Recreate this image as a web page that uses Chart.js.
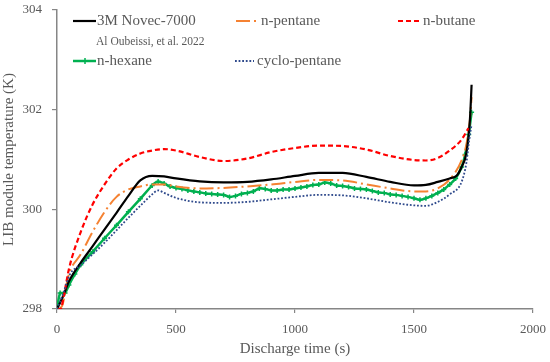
<!DOCTYPE html>
<html>
<head>
<meta charset="utf-8">
<script src="https://cdn.jsdelivr.net/npm/chart.js@4"></script>
<style>
  html, body { margin: 0; padding: 0; background: #fff; }
  #wrap { width: 550px; height: 362px; }
</style>
</head>
<body>
<div id="wrap"><canvas id="chart" width="550" height="362"></canvas></div>
<script>
// discharge time (s) and module temperature (K) for each coolant
const novecTime = [0, 25, 50, 100, 150, 200, 250, 300, 350, 400, 450, 500, 600, 700, 800, 900, 1000, 1100, 1200, 1300, 1400, 1500, 1550, 1600, 1650, 1680, 1700, 1720, 1735, 1742];
const novecTemp = [298.0, 298.25, 298.55, 298.93, 299.26, 299.6, 299.93, 300.27, 300.58, 300.67, 300.66, 300.62, 300.56, 300.54, 300.55, 300.6, 300.67, 300.73, 300.73, 300.65, 300.55, 300.48, 300.49, 300.55, 300.62, 300.68, 300.85, 301.13, 301.8, 302.5];

const pentaneTime = [0, 20, 50, 100, 150, 200, 250, 300, 350, 400, 450, 500, 600, 700, 800, 900, 1000, 1100, 1200, 1300, 1400, 1500, 1550, 1600, 1650, 1700, 1720, 1735, 1742];
const pentaneTemp = [298.0, 298.05, 298.7, 299.1, 299.55, 299.95, 300.25, 300.4, 300.46, 300.5, 300.5, 300.46, 300.42, 300.43, 300.46, 300.5, 300.55, 300.59, 300.58, 300.5, 300.42, 300.36, 300.36, 300.42, 300.6, 300.98, 301.3, 301.8, 302.25];

const butaneTime = [0, 15, 30, 50, 100, 150, 200, 250, 300, 350, 400, 450, 500, 600, 700, 800, 900, 1000, 1100, 1200, 1300, 1400, 1500, 1550, 1600, 1650, 1700, 1729];
const butaneTemp = [298.0, 298.0, 298.3, 298.8, 299.55, 300.1, 300.5, 300.82, 301.0, 301.12, 301.18, 301.21, 301.18, 301.05, 300.97, 301.02, 301.15, 301.23, 301.28, 301.27, 301.2, 301.07, 300.99, 300.98, 301.03, 301.18, 301.4, 301.63];

const hexaneTime = [0, 13, 34, 50, 75, 100, 150, 200, 250, 300, 350, 400, 425, 450, 475, 500, 525, 550, 575, 600, 625, 650, 675, 700, 725, 750, 775, 800, 825, 850, 875, 900, 925, 950, 975, 1000, 1025, 1050, 1075, 1100, 1125, 1150, 1175, 1200, 1225, 1250, 1275, 1300, 1325, 1350, 1375, 1400, 1425, 1450, 1475, 1500, 1525, 1550, 1575, 1600, 1625, 1650, 1675, 1700, 1715, 1730, 1742];
const hexaneTemp = [298.0, 298.32, 298.32, 298.48, 298.7, 298.89, 299.15, 299.42, 299.68, 299.95, 300.21, 300.48, 300.56, 300.52, 300.46, 300.43, 300.41, 300.38, 300.36, 300.34, 300.32, 300.31, 300.3, 300.29, 300.25, 300.27, 300.31, 300.33, 300.36, 300.42, 300.41, 300.38, 300.38, 300.4, 300.4, 300.42, 300.44, 300.46, 300.49, 300.5, 300.54, 300.52, 300.48, 300.47, 300.45, 300.42, 300.41, 300.4, 300.37, 300.34, 300.33, 300.3, 300.29, 300.27, 300.25, 300.22, 300.19, 300.22, 300.27, 300.33, 300.4, 300.5, 300.62, 300.85, 301.1, 301.5, 301.95];

const cycloTime = [0, 25, 55, 100, 150, 200, 250, 300, 350, 400, 425, 450, 500, 600, 700, 800, 900, 1000, 1100, 1200, 1300, 1400, 1500, 1550, 1600, 1650, 1700, 1720, 1732, 1742];
const cycloTemp = [298.0, 298.3, 298.7, 298.88, 299.1, 299.33, 299.58, 299.83, 300.07, 300.3, 300.38, 300.33, 300.23, 300.14, 300.13, 300.15, 300.2, 300.25, 300.29, 300.28, 300.22, 300.14, 300.08, 300.07, 300.15, 300.3, 300.55, 300.93, 301.39, 301.7];

const xTicks = [0, 500, 1000, 1500, 2000];
const yTicks = [298, 300, 302, 304];

const labels = ['3M Novec-7000', 'n-pentane', 'n-butane', 'n-hexane', 'cyclo-pentane'];
const refNote = 'Al Oubeissi, et al. 2022';

const textColor = '#595959';
const axisColor = '#868686';
const serif = '"Liberation Serif", "Times New Roman", serif';

const toPoints = (t, v) => t.map((x, i) => ({ x: x, y: v[i] }));

const legendPlugin = {
  id: 'legendBox',
  afterDraw(chart) {
    const ctx = chart.ctx;
    ctx.save();
    const drawSample = (x1, x2, y, color, width, dash) => {
      ctx.beginPath();
      ctx.setLineDash(dash);
      ctx.strokeStyle = color;
      ctx.lineWidth = width;
      ctx.moveTo(x1, y);
      ctx.lineTo(x2, y);
      ctx.stroke();
    };
    const drawText = (txt, x, y, size) => {
      ctx.setLineDash([]);
      ctx.fillStyle = textColor;
      ctx.font = size + 'px ' + serif;
      ctx.textAlign = 'left';
      ctx.textBaseline = 'middle';
      ctx.fillText(txt, x, y);
    };
    drawSample(73, 96, 21, '#000000', 2.2, []);
    drawText(labels[0], 97, 21, 15);
    drawSample(236, 261, 21, '#f58232', 2, [14, 4, 2, 6]);
    drawText(labels[1], 261, 21, 15);
    drawSample(398, 420, 21, '#ff0000', 2.2, [5, 3]);
    drawText(labels[2], 423, 21, 15);
    drawText(refNote, 96, 42, 11.5);
    drawSample(73, 96, 61, '#00b050', 2.5, []);
    ctx.setLineDash([]);
    ctx.beginPath();
    ctx.strokeStyle = '#00b050';
    ctx.lineWidth = 1.5;
    ctx.moveTo(85, 58); ctx.lineTo(85, 64);
    ctx.stroke();
    drawText(labels[3], 97, 61, 15);
    drawSample(235, 254, 61, '#2f4a8c', 1.8, [1.8, 1.8]);
    drawText(labels[4], 257, 61, 15);
    ctx.restore();
  }
};

const ctx = document.getElementById('chart').getContext('2d');
new Chart(ctx, {
  type: 'line',
  data: {
    datasets: [
      {
        label: labels[4],
        data: toPoints(cycloTime, cycloTemp),
        borderColor: '#2f4a8c',
        borderWidth: 1.8,
        borderDash: [1.8, 1.8],
        pointRadius: 0,
        cubicInterpolationMode: 'monotone'
      },
      {
        label: labels[2],
        data: toPoints(butaneTime, butaneTemp),
        borderColor: '#ff0000',
        borderWidth: 2.2,
        borderDash: [5, 3],
        pointRadius: 0,
        cubicInterpolationMode: 'monotone'
      },
      {
        label: labels[0],
        data: toPoints(novecTime, novecTemp),
        borderColor: '#000000',
        borderWidth: 2.2,
        pointRadius: 0,
        cubicInterpolationMode: 'monotone'
      },
      {
        label: labels[1],
        data: toPoints(pentaneTime, pentaneTemp),
        borderColor: '#f58232',
        borderWidth: 2,
        borderDash: [14, 4, 2, 4],
        pointRadius: 0,
        cubicInterpolationMode: 'monotone'
      },
      {
        label: labels[3],
        data: toPoints(hexaneTime, hexaneTemp),
        borderColor: '#00b050',
        backgroundColor: '#00b050',
        borderWidth: 2.5,
        pointStyle: 'cross',
        pointRadius: 2.5,
        pointBorderWidth: 1.5,
        pointBorderColor: '#00b050',
        tension: 0.2
      }
    ]
  },
  options: {
    responsive: false,
    animation: false,
    layout: { padding: { left: 0, right: 17, top: 10, bottom: 0 } },
    plugins: {
      legend: { display: false },
      tooltip: { enabled: false }
    },
    scales: {
      x: {
        type: 'linear',
        min: 0,
        max: 2000,
        afterBuildTicks: scale => { scale.ticks = xTicks.map(v => ({ value: v })); },
        afterFit: scale => { scale.height = 53; scale.paddingLeft = 0; scale.paddingRight = 0; },
        border: { color: axisColor, width: 1.5 },
        grid: { drawOnChartArea: false, color: axisColor, tickLength: 4, lineWidth: 1.2 },
        ticks: { color: textColor, font: { family: serif, size: 13 }, padding: 9, maxRotation: 0, callback: v => String(v) },
        title: { display: true, text: 'Discharge time (s)', color: textColor, font: { family: serif, size: 15 }, padding: { top: 0, bottom: 4 } }
      },
      y: {
        min: 298,
        max: 304,
        afterBuildTicks: scale => { scale.ticks = yTicks.map(v => ({ value: v })); },
        afterFit: scale => { scale.width = 57; scale.paddingTop = 0; scale.paddingBottom = 0; },
        border: { color: axisColor, width: 1.5 },
        grid: { drawOnChartArea: false, color: axisColor, tickLength: 5, lineWidth: 1.2 },
        ticks: { color: textColor, font: { family: serif, size: 13 }, padding: 10, callback: v => String(v) },
        title: { display: true, text: 'LIB module temperature (K)', color: textColor, font: { family: serif, size: 15 }, padding: { top: 0, bottom: 2 } }
      }
    }
  },
  plugins: [legendPlugin]
});
</script>
</body>
</html>
